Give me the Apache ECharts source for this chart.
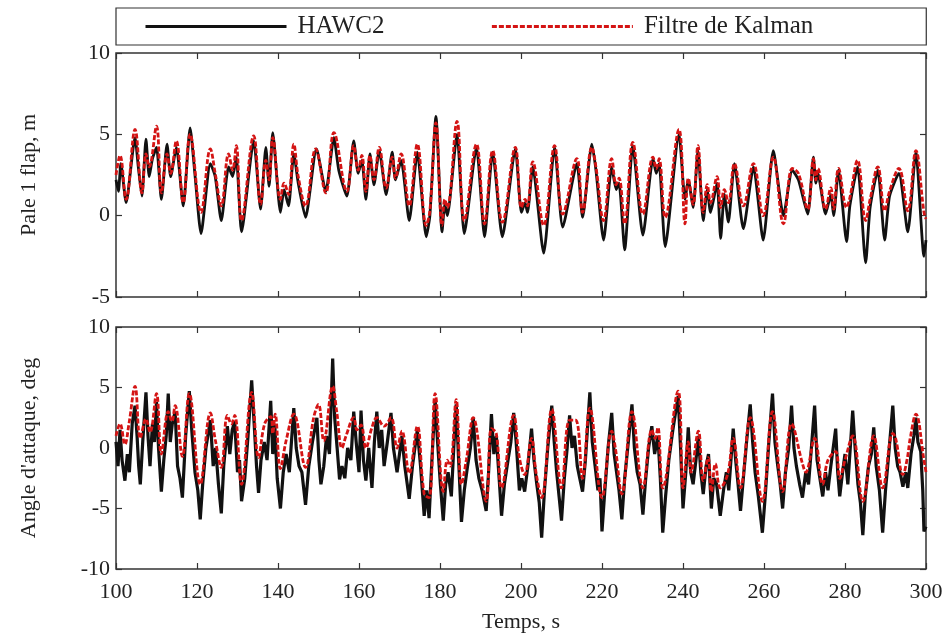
<!DOCTYPE html>
<html><head><meta charset="utf-8">
<script src="https://cdn.jsdelivr.net/npm/echarts@6/dist/echarts.min.js"></script>
<style>html,body{margin:0;padding:0;background:#fff}#c{width:947px;height:636px}</style>
</head><body><div id="c"></div>
<script>
// ---- data: [time (s), value] ----
const seriesNames = ['HAWC2', 'Filtre de Kalman'];
const xTicks = [100, 120, 140, 160, 180, 200, 220, 240, 260, 280, 300];
const topTicks = [-5, 0, 5, 10];
const botTicks = [-10, -5, 0, 5, 10];

// Top: Pale 1 flap, m
const topHawc = [[100,2.2],[100.6,1.5],[101.2,3.2],[102.5,0.8],[104.7,4.8],[105.5,3.0],[106.4,1.2],[107.4,4.7],[108.2,2.4],[109,3.5],[110,4.2],[111.2,1.0],[112.6,4.4],[113.5,2.4],[114.9,4.2],[116.6,0.6],[118.3,5.4],[119.5,2.5],[121,-1.1],[123.3,3.2],[124.5,2.4],[126,-0.3],[127.8,3.0],[128.8,2.4],[129.7,3.6],[131,-1.0],[134,4.6],[135.7,0.4],[137,4.2],[137.8,1.8],[138.7,5.1],[140.6,0.2],[141.5,1.6],[142.6,0.6],[143.9,3.8],[145,2.0],[146.8,-0.1],[149.5,4.1],[151.8,1.5],[153.8,4.8],[155,2.8],[157,1.2],[158.7,4.6],[159.8,2.6],[160.7,3.4],[161.7,1.0],[162.7,3.8],[163.7,1.9],[165,4.0],[166.7,1.3],[168.2,3.9],[169,2.2],[170.4,3.4],[172.4,-0.3],[174.4,3.9],[176.6,-1.3],[177.5,0.0],[179,6.1],[180.5,-1.0],[181.2,0.7],[181.8,0.0],[184.2,5.0],[186,-1.1],[189,4.2],[191,-1.3],[193,3.9],[195.4,-1.3],[198.6,4.1],[200.1,0.2],[201,0.8],[201.6,0.2],[202.9,3.0],[205.6,-2.3],[208.3,4.2],[210.3,-0.7],[213.8,3.2],[215.2,-0.1],[217.5,4.4],[218.5,2.8],[220.4,-1.5],[222.4,3.0],[223.5,1.6],[224.2,2.0],[225.6,-2.1],[227.6,4.3],[230.1,-1.2],[232.6,3.5],[233.4,2.6],[234.1,3.2],[235.6,-1.9],[239,5.0],[240.5,1.0],[241.3,2.2],[242.5,0.5],[243.7,4.0],[245,-0.3],[246,1.6],[246.8,0.2],[248.4,2.0],[249.3,-1.4],[250.2,1.3],[251.2,-0.4],[252.7,3.2],[254.9,-0.8],[257.4,3.0],[259.8,-1.5],[262.3,4.0],[264.8,0.0],[267,2.8],[268.5,2.2],[270.8,0.1],[272.2,3.6],[272.8,2.0],[273.3,2.6],[275.2,0.1],[276.5,1.3],[277.2,0.0],[278.4,2.8],[280.4,-1.6],[281.2,0.6],[283.1,3.0],[285.1,-2.9],[286.2,0.5],[288.1,2.8],[289.8,-1.5],[291,1.2],[293.3,2.6],[295.5,-1.0],[297.5,3.9],[299.5,-2.5],[300,-1.5]];

const topKalman = [[100,2.5],[101,3.7],[102.5,1.0],[104.7,5.3],[106.4,1.4],[107.4,3.8],[108.2,3.0],[110,5.5],[111.2,1.4],[112.6,3.8],[113.5,2.6],[114.9,4.6],[116.6,0.8],[118.3,5.0],[121,0.2],[123.3,4.1],[124.5,2.6],[126,0.6],[127.8,3.8],[128.8,2.8],[129.7,4.3],[131,-0.3],[134,4.9],[135.7,0.7],[137,3.4],[137.8,2.2],[138.7,4.8],[140.6,1.0],[141.5,2.0],[142.6,1.3],[143.9,4.4],[145,2.4],[146.8,0.6],[149.3,4.1],[151.8,1.4],[153.8,5.1],[157,1.5],[158.7,4.3],[159.8,2.8],[160.7,3.7],[161.7,1.5],[162.7,3.7],[163.7,2.2],[165,4.2],[166.7,1.7],[168.2,3.6],[169,2.3],[170.4,3.8],[172.4,0.6],[174.4,4.4],[176.6,-0.6],[177.5,0.3],[179,5.7],[180.5,-0.6],[181.2,1.0],[181.8,0.5],[184.2,5.8],[186,-0.3],[189,4.4],[191,-0.5],[193,4.0],[195.4,-0.4],[198.6,4.2],[200.1,0.5],[201,1.0],[201.6,0.6],[202.9,3.3],[205.6,-0.6],[208.3,4.3],[210.3,0.1],[213.8,3.5],[215.2,0.2],[217.5,4.2],[218.5,3.0],[220.4,-0.3],[222.4,3.5],[223.5,1.9],[224.2,2.3],[225.6,-0.5],[227.6,4.5],[230.1,0.1],[232.6,3.6],[233.4,2.9],[234.1,3.5],[235.6,-0.1],[239,5.3],[240.5,-0.5],[241.3,2.3],[242.5,0.7],[243.7,4.3],[245,0.2],[246,1.9],[246.8,0.8],[248.4,2.4],[249.3,0.5],[250.2,1.6],[251.2,0.8],[252.7,3.2],[254.9,0.6],[257.4,3.2],[259.8,0.0],[262.3,3.6],[264.8,-0.5],[267,2.9],[268.5,2.6],[270.8,0.4],[272.2,3.5],[272.8,2.2],[273.3,2.9],[275.2,0.4],[276.5,1.7],[277.2,0.4],[278.4,2.9],[280.4,0.5],[281.2,1.1],[283.1,3.4],[285.1,-0.3],[286.2,1.0],[288.1,3.0],[289.8,0.3],[291,1.5],[293.3,2.9],[295.5,0.3],[297.5,4.0],[299.5,0.2],[300,-0.2]];

// Bottom: Angle d'attaque, deg
const botHawc = [[100,0.5],[100.5,-1.5],[101,1.5],[101.5,-1.0],[102.2,-2.7],[102.8,-0.5],[103.3,-2.0],[104,2.0],[104.7,3.5],[105.2,1.0],[105.6,-1.5],[106,-3.0],[106.6,0.5],[107.4,4.6],[107.9,1.0],[108.4,-1.5],[109,2.0],[109.5,0.5],[110,3.8],[110.5,0.0],[111.2,-3.6],[111.8,-1.0],[112.4,1.0],[112.9,4.5],[113.4,0.5],[113.9,2.0],[114.6,3.0],[115.2,-1.5],[115.8,-2.5],[116.4,-4.1],[117.2,1.0],[118.1,4.7],[118.7,1.5],[119.5,-2.0],[120.2,-3.5],[120.8,-5.9],[121.4,-3.0],[122.2,0.0],[123.3,2.3],[124,-1.5],[124.6,0.0],[125.3,-3.0],[126,-5.4],[126.6,-1.5],[127.5,1.8],[128.1,-0.5],[128.7,1.5],[129.3,2.2],[130,-2.0],[130.5,-1.0],[131,-4.4],[131.8,-2.5],[132.6,1.0],[133.5,5.6],[134.2,1.5],[134.7,-1.5],[135.2,-3.7],[135.8,-1.0],[136.6,0.5],[137.3,-1.0],[138.2,3.9],[138.7,-0.5],[139.2,2.0],[139.8,-2.5],[140.6,-5.0],[141.3,-2.0],[142,-0.5],[142.8,-2.0],[143.9,3.3],[144.5,0.0],[145.2,-1.5],[145.9,-2.0],[146.8,-4.7],[147.6,-1.5],[148.5,0.5],[149.6,2.5],[150.1,-1.0],[150.6,-3.0],[151.3,-1.5],[152,1.0],[152.7,-0.5],[153.5,7.4],[154,2.5],[154.6,0.0],[155.2,-2.6],[155.8,-1.5],[156.5,-2.5],[157.2,0.0],[158,-1.0],[158.7,3.0],[159.3,0.5],[160,-2.0],[160.5,3.1],[161.1,-1.0],[161.7,-2.7],[162.4,0.0],[163.2,-3.3],[163.8,0.5],[164.4,3.0],[165,0.0],[165.6,1.5],[166.2,-1.5],[167,0.5],[167.9,2.9],[168.5,0.0],[169.4,-2.0],[170,-0.5],[170.6,1.0],[171.3,-1.5],[172.4,-4.2],[173.2,-1.5],[174.4,1.5],[175.2,-1.5],[176.1,-5.6],[176.7,-3.5],[177.3,-5.8],[178,-1.0],[178.8,4.0],[179.4,0.5],[180.1,-3.0],[180.8,-6.0],[181.4,-3.0],[182,-2.0],[182.8,-4.0],[183.4,0.0],[184,3.6],[184.6,-1.0],[185.3,-6.1],[186,-3.5],[186.8,-1.5],[187.5,0.0],[188.2,2.5],[188.9,-1.0],[189.6,-2.5],[190.4,-3.5],[191.4,-5.2],[192,-2.0],[192.7,2.8],[193.3,-0.5],[193.9,1.0],[194.6,-2.5],[195.2,-5.6],[195.9,-3.0],[196.8,-1.0],[197.5,0.5],[198.2,2.9],[198.8,0.5],[199.6,-3.5],[200.2,-2.5],[200.9,-3.6],[201.7,-1.5],[202.6,1.6],[203.2,-1.0],[203.9,-3.0],[204.5,-4.5],[205.1,-7.4],[205.8,-3.5],[206.6,0.0],[207.6,3.5],[208.2,0.5],[208.8,-2.0],[209.4,-4.0],[210,-6.0],[210.7,-2.5],[211.4,0.0],[212,2.7],[212.6,0.0],[213.2,1.0],[213.9,-1.5],[214.5,-2.5],[215.2,-3.6],[215.9,-1.0],[217,4.6],[217.6,0.5],[218.3,-1.5],[219,-3.5],[219.5,-2.5],[220,-6.9],[220.7,-3.5],[221.5,0.0],[222.4,2.9],[223,-0.5],[223.6,-2.0],[224.2,-3.5],[224.9,-5.9],[225.6,-2.5],[226.5,0.5],[227.4,3.6],[228,0.0],[228.7,-2.0],[229.4,-3.0],[230.1,-5.5],[230.8,-2.5],[231.5,0.0],[232.3,1.8],[233,-0.5],[233.8,1.0],[234.4,-2.5],[235,-7.0],[235.7,-4.0],[236.5,-1.0],[237.5,1.5],[238.8,4.3],[239.4,0.0],[240,-5.0],[240.7,-2.0],[241.3,1.7],[241.9,-2.0],[242.5,-3.0],[243.2,-1.0],[243.8,1.0],[244.4,-2.0],[245,-3.8],[245.7,-1.5],[246.3,-0.5],[247,-5.0],[247.6,-2.5],[248.3,-3.0],[249.2,-5.6],[250,-3.5],[250.7,-2.0],[251.3,-3.5],[252.4,1.6],[253,-1.0],[253.6,-3.0],[254.2,-5.2],[254.9,-2.5],[255.7,0.5],[256.6,3.6],[257.2,0.5],[257.8,-2.0],[258.6,-4.0],[259.6,-7.0],[260.3,-4.0],[261.2,0.5],[262.1,4.5],[262.7,0.5],[263.4,-1.5],[264,-3.0],[264.6,-5.0],[265.3,-2.0],[266.1,0.0],[266.8,3.5],[267.4,0.0],[268,-1.5],[268.8,-3.0],[269.5,-4.1],[270.3,-2.0],[271,-3.0],[271.7,0.0],[272.5,3.5],[273.1,-1.0],[273.8,-2.5],[274.5,-4.0],[275.2,-2.0],[275.8,-3.5],[276.5,-1.5],[277.7,1.6],[278.2,-2.0],[278.7,-4.0],[279.4,-2.0],[280,-0.5],[280.7,-3.0],[281.3,0.0],[281.9,3.1],[282.5,0.0],[283.2,-3.0],[283.8,-4.5],[284.4,-7.2],[285,-4.0],[285.8,-1.5],[286.5,-0.5],[287.1,1.7],[287.7,-1.5],[288.5,-3.5],[289.3,-7.0],[290,-3.5],[290.8,-0.5],[291.8,3.5],[292.4,0.0],[293,-1.5],[293.6,-2.0],[294.3,-3.2],[295,-2.0],[295.5,-3.3],[296.3,-0.5],[297,1.0],[297.5,2.5],[298,0.5],[298.7,-0.3],[299.2,-3.5],[299.5,-6.9],[300,-6.5]];

const botKalman = [[100,1.0],[101,2.0],[102.2,0.3],[103.2,2.0],[104.7,5.1],[106,0.8],[107.4,2.4],[108.4,1.3],[110,4.5],[111.2,-0.5],[112.9,3.0],[113.8,2.2],[114.6,3.5],[116.4,-0.7],[118.1,4.5],[120.8,-3.0],[123.3,2.9],[124.5,0.7],[126,-1.6],[127.5,2.7],[128.5,2.0],[129.3,2.7],[131,-3.0],[133.5,4.6],[135.2,-0.8],[136.7,2.0],[138.2,2.6],[138.7,1.2],[139.3,2.8],[140.6,-1.7],[142,0.6],[143.9,2.8],[146.8,-1.6],[148.8,2.5],[150,3.6],[151.3,0.6],[153.5,5.1],[154.5,3.0],[155.8,0.0],[156.8,1.0],[158.7,2.5],[159.5,1.5],[160.5,1.9],[161.7,0.0],[163.2,1.7],[164.4,2.5],[166.2,1.8],[167.9,2.5],[169.4,0.0],[170.6,1.4],[172.4,-2.1],[174.4,1.8],[176.1,-3.8],[177.3,-4.1],[178.8,4.5],[180.8,-3.6],[181.8,-1.0],[182.5,-1.5],[184,4.0],[185.3,-3.0],[186.5,-1.0],[188.2,2.5],[191.4,-4.4],[192.7,1.6],[193.9,1.2],[195.2,-3.3],[198.2,2.7],[199.6,-0.8],[200.9,-2.2],[202.6,0.8],[203.7,-2.0],[205.1,-4.1],[207.6,3.2],[210,-3.3],[212,2.3],[213.5,2.3],[215.2,-2.5],[217,3.3],[220,-4.1],[222.4,1.4],[223.3,0.0],[224.9,-3.8],[227.4,3.0],[230.1,-3.3],[232.3,1.5],[233.1,0.8],[233.8,1.7],[235,-3.3],[238.8,4.7],[240,-3.3],[241.3,0.5],[242,-2.0],[243.8,1.4],[245,-2.7],[246.2,-0.8],[247,-3.6],[248,-1.3],[249.2,-3.3],[251,-2.2],[252.4,0.8],[254.2,-3.3],[256.6,2.5],[259.6,-4.4],[262.1,3.0],[264.6,-3.6],[266.8,2.0],[269.5,-1.3],[270.3,-2.0],[272.5,0.8],[274.5,-3.0],[275.8,-1.0],[277.7,-0.3],[278.7,-2.5],[280,-1.0],[281.9,1.0],[284.4,-4.4],[287.1,1.0],[289.3,-3.3],[291.8,1.2],[292.5,0.8],[294.3,-2.2],[295.3,-1.0],[296.2,1.0],[297.5,2.8],[299.5,-1.0],[300,-2.0]];

// ---- chart ----
const FONT = 'Liberation Serif';
const AX = '#333';
const blackTop = {color: '#111111', width: 2.8};
const blackBot = {color: '#111111', width: 3.2};
const redStyle = {color: '#d41414', width: 2.8, type: [5, 2]};

function xAxisFor(grid, showLabels, pos) {
  return {
    type: 'value', gridIndex: grid, min: 100, max: 300, interval: 20, position: pos,
    axisLine: {show: false, onZero: false},
    axisTick: {show: true, inside: true, length: 6, lineStyle: {color: AX, width: 1.2}},
    axisLabel: {show: showLabels, fontFamily: FONT, fontSize: 22, color: '#222', margin: 12},
    splitLine: {show: false},
    name: showLabels ? 'Temps, s' : '', nameLocation: 'middle', nameGap: 42,
    nameTextStyle: {fontFamily: FONT, fontSize: 22, color: '#222'}
  };
}
function yAxisFor(grid, min, max, name, showLabels, pos) {
  return {
    type: 'value', gridIndex: grid, min: min, max: max, interval: 5, position: pos,
    axisLine: {show: false, onZero: false},
    axisTick: {show: true, inside: true, length: 6, lineStyle: {color: AX, width: 1.2}},
    axisLabel: {show: showLabels, fontFamily: FONT, fontSize: 22, color: '#222', margin: 6,
      formatter: v => String(v)},
    splitLine: {show: false},
    name: showLabels ? name : '', nameLocation: 'middle', nameGap: 76,
    nameTextStyle: {fontFamily: FONT, fontSize: 22, color: '#222'}
  };
}

const chart = echarts.init(document.getElementById('c'), null, {renderer: 'canvas'});
chart.setOption({
  animation: false,
  backgroundColor: '#fff',
  legend: {
    left: 116, top: 8,
    data: seriesNames,
    itemWidth: 141, itemHeight: 14, itemGap: 106,
    borderColor: '#333', borderWidth: 1.2,
    padding: [6, 113, 6, 28],
    itemStyle: {opacity: 0},
    lineStyle: {width: 3},
    textStyle: {fontFamily: FONT, fontSize: 25, color: '#222', padding: [0, 0, 0, 6]},
    selectedMode: false
  },
  grid: [
    {left: 116, right: 21, top: 53, height: 244, show: true, borderColor: AX, borderWidth: 1.5, backgroundColor: 'transparent'},
    {left: 116, right: 21, top: 327, height: 242, show: true, borderColor: AX, borderWidth: 1.5, backgroundColor: 'transparent'}
  ],
  xAxis: [
    xAxisFor(0, false, 'bottom'), xAxisFor(0, false, 'top'),
    xAxisFor(1, true, 'bottom'), xAxisFor(1, false, 'top')
  ],
  yAxis: [
    yAxisFor(0, -5, 10, 'Pale 1 flap, m', true, 'left'), yAxisFor(0, -5, 10, '', false, 'right'),
    yAxisFor(1, -10, 10, "Angle d'attaque, deg", true, 'left'), yAxisFor(1, -10, 10, '', false, 'right')
  ],
  series: [
    {name: seriesNames[0], type: 'line', xAxisIndex: 0, yAxisIndex: 0, data: topHawc, symbol: 'none', smooth: 0.2, lineStyle: blackTop, itemStyle: {color: '#111'}, z: 2},
    {name: seriesNames[1], type: 'line', xAxisIndex: 0, yAxisIndex: 0, data: topKalman, symbol: 'none', smooth: 0.4, lineStyle: redStyle, itemStyle: {color: '#b8102a'}, z: 3},
    {name: seriesNames[0], type: 'line', xAxisIndex: 2, yAxisIndex: 2, data: botHawc, symbol: 'none', lineStyle: blackBot, itemStyle: {color: '#111'}, z: 2},
    {name: seriesNames[1], type: 'line', xAxisIndex: 2, yAxisIndex: 2, data: botKalman, symbol: 'none', smooth: 0.4, lineStyle: redStyle, itemStyle: {color: '#b8102a'}, z: 3}
  ]
});
</script>
</body></html>
